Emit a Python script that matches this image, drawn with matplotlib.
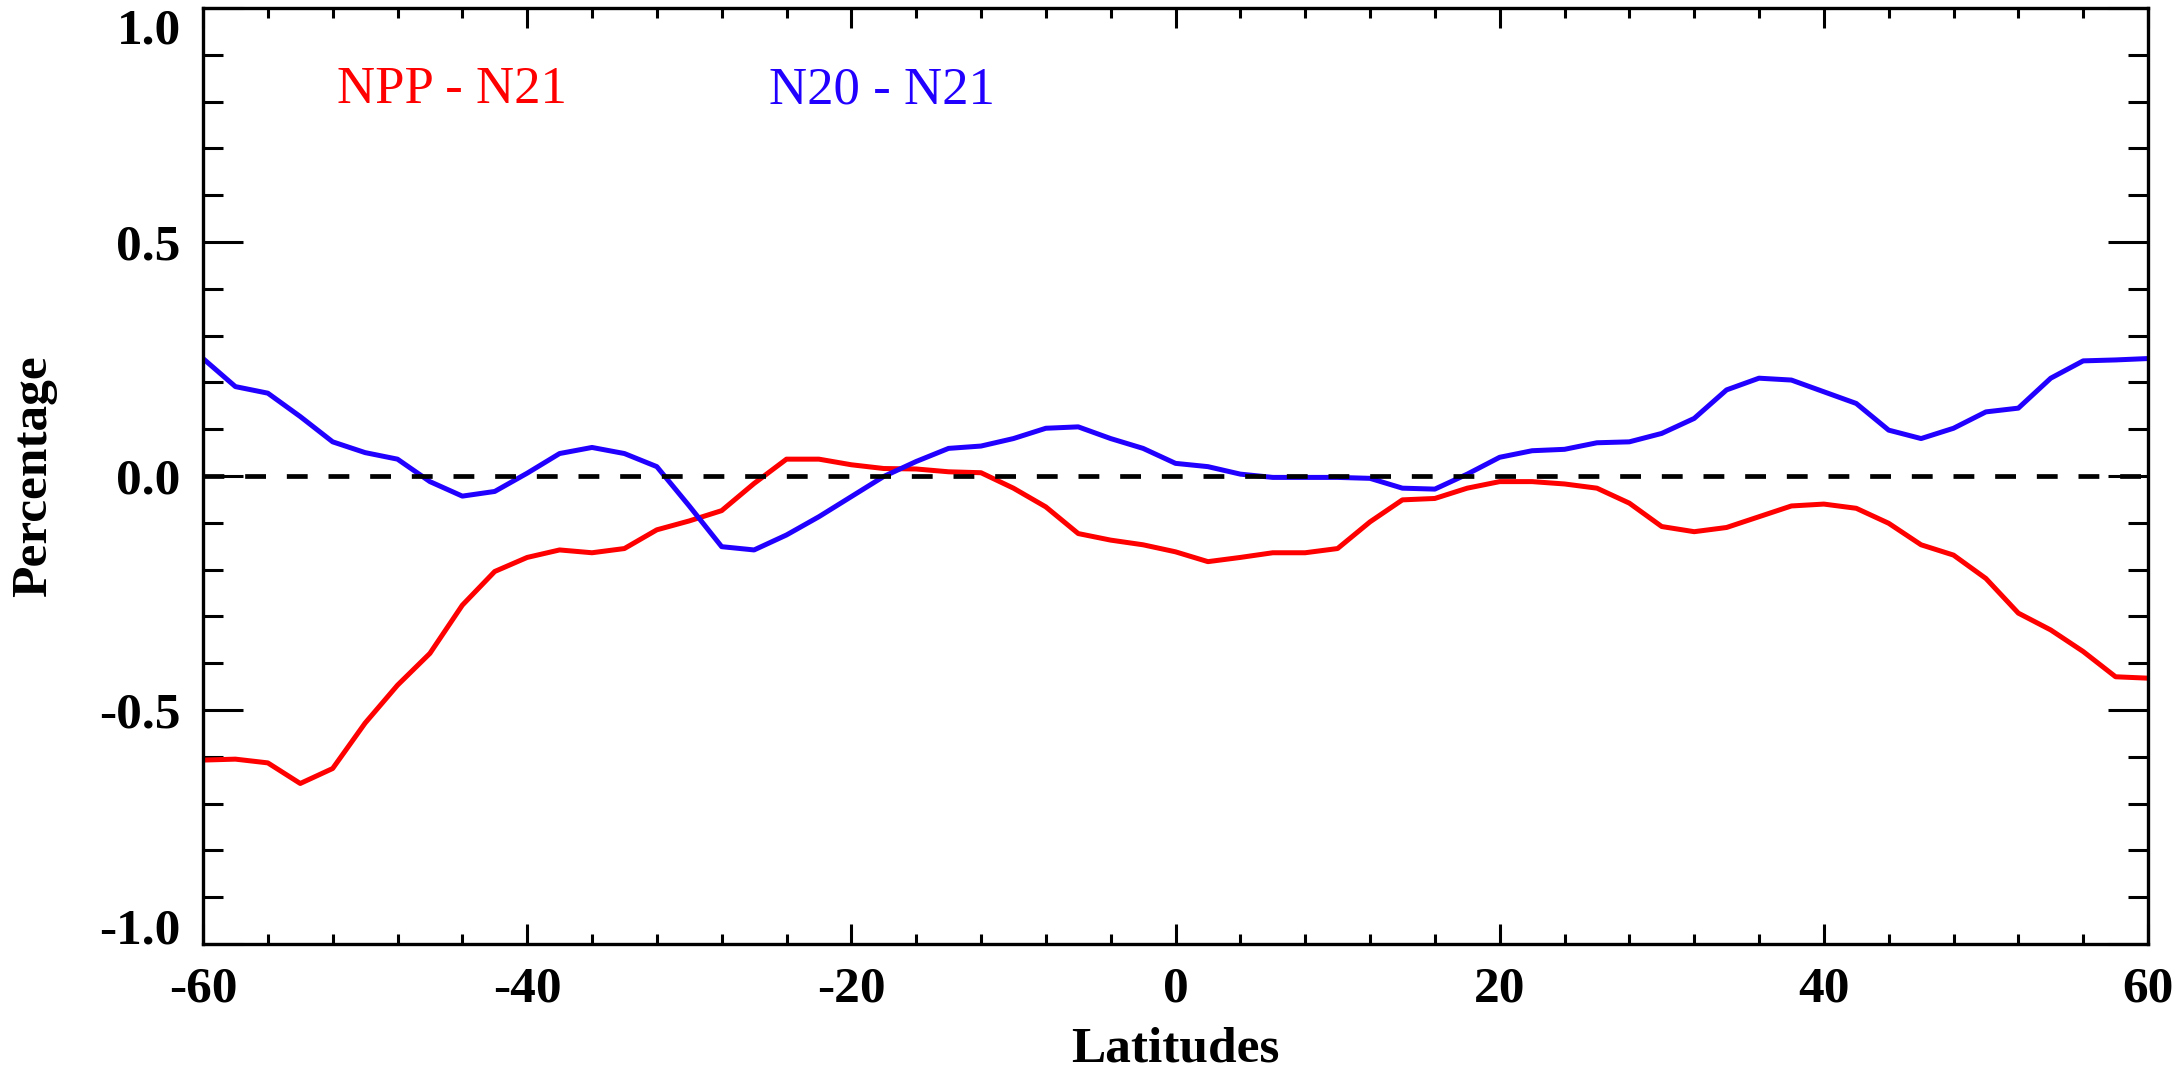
import numpy as np
import matplotlib
matplotlib.use('Agg')
import matplotlib.pyplot as plt
from matplotlib.ticker import MultipleLocator

# latitude grid (every 2 degrees) and the two difference curves
lat = [-60, -58, -56, -54, -52, -50, -48, -46, -44, -42, -40, -38, -36, -34, -32, -30,
       -28, -26, -24, -22, -20, -18, -16, -14, -12, -10, -8, -6, -4, -2, 0,
       2, 4, 6, 8, 10, 12, 14, 16, 18, 20, 22, 24, 26, 28, 30,
       32, 34, 36, 38, 40, 42, 44, 46, 48, 50, 52, 54, 56, 58, 60]

npp_n21 = [-0.607, -0.605, -0.613, -0.657, -0.625, -0.528, -0.447, -0.379, -0.276, -0.204,
           -0.174, -0.158, -0.164, -0.155, -0.115, -0.096,
           -0.074, -0.016, 0.036, 0.036, 0.024, 0.016, 0.015, 0.009, 0.007, -0.026,
           -0.066, -0.123, -0.137, -0.147, -0.162,
           -0.183, -0.174, -0.164, -0.164, -0.155, -0.098, -0.051, -0.048, -0.026, -0.012,
           -0.012, -0.017, -0.026, -0.058, -0.108,
           -0.119, -0.110, -0.087, -0.064, -0.060, -0.069, -0.101, -0.147, -0.169, -0.219,
           -0.293, -0.329, -0.375, -0.429, -0.432]

n20_n21 = [0.251, 0.191, 0.177, 0.127, 0.073, 0.050, 0.036, -0.012, -0.043, -0.033,
           0.006, 0.048, 0.061, 0.048, 0.020, -0.064,
           -0.151, -0.158, -0.126, -0.087, -0.044, -0.001, 0.031, 0.059, 0.064, 0.080,
           0.102, 0.105, 0.080, 0.059, 0.027,
           0.020, 0.004, -0.003, -0.003, -0.003, -0.005, -0.026, -0.028, 0.004, 0.040,
           0.054, 0.057, 0.071, 0.073, 0.091,
           0.123, 0.184, 0.209, 0.205, 0.180, 0.155, 0.098, 0.080, 0.102, 0.137,
           0.145, 0.209, 0.246, 0.248, 0.251]

names = ['NPP - N21', 'N20 - N21']
colors = ['#FF0000', '#2200FF']
xticks = [-60, -40, -20, 0, 20, 40, 60]
yticks = [-1.0, -0.5, 0.0, 0.5, 1.0]

plt.rcParams['font.family'] = ['Liberation Serif', 'DejaVu Serif']
plt.rcParams['axes.unicode_minus'] = False
plt.rcParams['lines.scale_dashes'] = False

fig = plt.figure(figsize=(21.72, 10.73), dpi=100)
ax = fig.add_axes([203/2172, 1 - 944/1073, 1945/2172, 936/1073])

ax.plot(lat, npp_n21, color=colors[0], lw=3.6)
ax.plot(lat, n20_n21, color=colors[1], lw=3.6)
ax.axhline(0, color='black', lw=3.4, dashes=(15, 15))

ax.set_xlim(-60, 60)
ax.set_ylim(-1.0, 1.0)
ax.set_xticks(xticks)
ax.set_xticklabels([str(v) for v in xticks])
ax.set_yticks(yticks)
ax.set_yticklabels(['%.1f' % v for v in yticks])
ax.xaxis.set_minor_locator(MultipleLocator(4))
ax.yaxis.set_minor_locator(MultipleLocator(0.1))

for s in ax.spines.values():
    s.set_linewidth(2.4)

ax.tick_params(axis='both', which='both', direction='in', top=True, right=True, width=2.2)
ax.tick_params(axis='x', which='major', length=14.4, pad=16)
ax.tick_params(axis='x', which='minor', length=7.2)
ax.tick_params(axis='y', which='major', length=29, pad=16)
ax.tick_params(axis='y', which='minor', length=14.4)
for lab in ax.get_xticklabels() + ax.get_yticklabels():
    lab.set_fontsize(37)
    lab.set_fontweight('bold')

# end labels on the y axis sit inside the axis range
ylabs = ax.get_yticklabels()
ylabs[0].set_va('baseline')
ylabs[-1].set_va('top')

fig.text(34/2172, 1 - 476/1073, 'Percentage', rotation=90, ha='center', va='center',
         fontsize=37, fontweight='bold')
fig.text(1175/2172, 1 - 1062/1073, 'Latitudes', ha='center', va='baseline',
         fontsize=37, fontweight='bold')

ax.text(0.069, 0.8985, names[0], transform=ax.transAxes, color=colors[0],
        fontsize=38, va='baseline')
ax.text(0.291, 0.8985, names[1], transform=ax.transAxes, color=colors[1],
        fontsize=38, va='baseline')

plt.savefig('out.png', dpi=100)
